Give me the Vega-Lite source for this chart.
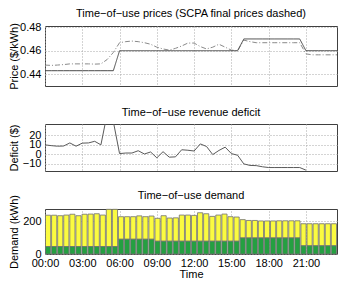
{
  "$schema": "https://vega.github.io/schema/vega-lite/v6.json",
  "padding": {"left": 5, "top": 7, "right": 5, "bottom": 1},
  "spacing": 38,
  "bounds": "flush",
  "config": {
    "font": "Liberation Sans",
    "view": {"stroke": "#404040", "strokeWidth": 1},
    "axis": {"labelFont": "Liberation Sans", "labelFontSize": 11, "labelColor": "#000", "titleFont": "Liberation Sans", "titleFontSize": 11, "titleFontWeight": "normal", "titleColor": "#000", "ticks": false, "tickSize": 0, "domain": false, "gridColor": "#a8a8a8", "gridDash": [1, 2], "gridWidth": 1, "labelPadding": 4, "titlePadding": 2, "labelOverlap": false, "labelFlush": false},
    "axisY": {"minExtent": 39, "maxExtent": 39, "titleX": -26},
    "title": {"fontSize": 11, "fontWeight": "normal", "font": "Liberation Sans", "color": "#000"}
  },
  "datasets": {
    "prices": [
      {"hour": 0, "tou": 0.443, "scpa": 0.4478}, {"hour": 0.5, "tou": 0.443, "scpa": 0.4475},
      {"hour": 1, "tou": 0.443, "scpa": 0.4478}, {"hour": 1.5, "tou": 0.443, "scpa": 0.4482},
      {"hour": 2, "tou": 0.443, "scpa": 0.4488}, {"hour": 2.5, "tou": 0.443, "scpa": 0.4488},
      {"hour": 3, "tou": 0.443, "scpa": 0.4488}, {"hour": 3.5, "tou": 0.443, "scpa": 0.4488},
      {"hour": 4, "tou": 0.443, "scpa": 0.4486}, {"hour": 4.5, "tou": 0.443, "scpa": 0.4488},
      {"hour": 5, "tou": 0.443, "scpa": 0.4525}, {"hour": 5.5, "tou": 0.443, "scpa": 0.4585},
      {"hour": 6, "tou": 0.46, "scpa": 0.4668}, {"hour": 6.5, "tou": 0.46, "scpa": 0.4677},
      {"hour": 7, "tou": 0.46, "scpa": 0.4682}, {"hour": 7.5, "tou": 0.46, "scpa": 0.4677},
      {"hour": 8, "tou": 0.46, "scpa": 0.4668}, {"hour": 8.5, "tou": 0.46, "scpa": 0.4655},
      {"hour": 9, "tou": 0.46, "scpa": 0.463}, {"hour": 9.5, "tou": 0.46, "scpa": 0.4615},
      {"hour": 10, "tou": 0.46, "scpa": 0.4605}, {"hour": 10.5, "tou": 0.46, "scpa": 0.462},
      {"hour": 11, "tou": 0.46, "scpa": 0.464}, {"hour": 11.5, "tou": 0.46, "scpa": 0.4665},
      {"hour": 12, "tou": 0.46, "scpa": 0.4665}, {"hour": 12.5, "tou": 0.46, "scpa": 0.4635},
      {"hour": 13, "tou": 0.46, "scpa": 0.4615}, {"hour": 13.5, "tou": 0.46, "scpa": 0.463},
      {"hour": 14, "tou": 0.46, "scpa": 0.4655}, {"hour": 14.5, "tou": 0.46, "scpa": 0.463},
      {"hour": 15, "tou": 0.46, "scpa": 0.4605}, {"hour": 15.5, "tou": 0.46, "scpa": 0.46},
      {"hour": 16, "tou": 0.47, "scpa": 0.469}, {"hour": 16.5, "tou": 0.47, "scpa": 0.4677},
      {"hour": 17, "tou": 0.47, "scpa": 0.4668}, {"hour": 17.5, "tou": 0.47, "scpa": 0.4668},
      {"hour": 18, "tou": 0.47, "scpa": 0.4668}, {"hour": 18.5, "tou": 0.47, "scpa": 0.4668},
      {"hour": 19, "tou": 0.47, "scpa": 0.4668}, {"hour": 19.5, "tou": 0.47, "scpa": 0.4668},
      {"hour": 20, "tou": 0.47, "scpa": 0.4668}, {"hour": 20.5, "tou": 0.47, "scpa": 0.4668},
      {"hour": 21, "tou": 0.46, "scpa": 0.4573}, {"hour": 21.5, "tou": 0.46, "scpa": 0.4565},
      {"hour": 22, "tou": 0.46, "scpa": 0.4565}, {"hour": 22.5, "tou": 0.46, "scpa": 0.4565},
      {"hour": 23, "tou": 0.46, "scpa": 0.4565}, {"hour": 23.5, "tou": 0.46, "scpa": 0.4565}
    ],
    "deficit": [
      {"hour": 0, "deficit": 9.8}, {"hour": 0.5, "deficit": 9.0}, {"hour": 1, "deficit": 8.4},
      {"hour": 1.5, "deficit": 8.6}, {"hour": 2, "deficit": 11.8}, {"hour": 2.5, "deficit": 8.4},
      {"hour": 3, "deficit": 11.6}, {"hour": 3.5, "deficit": 11.8}, {"hour": 4, "deficit": 13.5},
      {"hour": 4.5, "deficit": 9.8}, {"hour": 5, "deficit": 42}, {"hour": 5.5, "deficit": 34},
      {"hour": 6, "deficit": 0.7}, {"hour": 6.5, "deficit": 1.3}, {"hour": 7, "deficit": 1.3},
      {"hour": 7.5, "deficit": 3.7}, {"hour": 8, "deficit": 0.3}, {"hour": 8.5, "deficit": 2.4},
      {"hour": 9, "deficit": -3.7}, {"hour": 9.5, "deficit": 2.7}, {"hour": 10, "deficit": -3},
      {"hour": 10.5, "deficit": -2.7}, {"hour": 11, "deficit": 4.7}, {"hour": 11.5, "deficit": 4.2},
      {"hour": 12, "deficit": 3.4}, {"hour": 12.5, "deficit": 10.8}, {"hour": 13, "deficit": 8.1},
      {"hour": 13.5, "deficit": -0.3}, {"hour": 14, "deficit": 4}, {"hour": 14.5, "deficit": 7.4},
      {"hour": 15, "deficit": 0.7}, {"hour": 15.5, "deficit": -1}, {"hour": 16, "deficit": -10},
      {"hour": 16.5, "deficit": -11.6}, {"hour": 17, "deficit": -11.8}, {"hour": 17.5, "deficit": -13},
      {"hour": 18, "deficit": -13.8}, {"hour": 18.5, "deficit": -13.8}, {"hour": 19, "deficit": -13.8},
      {"hour": 19.5, "deficit": -13.8}, {"hour": 20, "deficit": -13.8}, {"hour": 20.5, "deficit": -13.8},
      {"hour": 21, "deficit": -16.5}
    ],
    "demand": [
      {"hour": 0, "base": 45, "total": 237}, {"hour": 0.5, "base": 45, "total": 237},
      {"hour": 1, "base": 45, "total": 234}, {"hour": 1.5, "base": 45, "total": 238},
      {"hour": 2, "base": 45, "total": 243}, {"hour": 2.5, "base": 45, "total": 234},
      {"hour": 3, "base": 45, "total": 243}, {"hour": 3.5, "base": 45, "total": 244},
      {"hour": 4, "base": 45, "total": 246}, {"hour": 4.5, "base": 45, "total": 238},
      {"hour": 5, "base": 45, "total": 273}, {"hour": 5.5, "base": 45, "total": 273},
      {"hour": 6, "base": 90, "total": 228}, {"hour": 6.5, "base": 90, "total": 228},
      {"hour": 7, "base": 90, "total": 228}, {"hour": 7.5, "base": 90, "total": 233},
      {"hour": 8, "base": 90, "total": 228}, {"hour": 8.5, "base": 90, "total": 232},
      {"hour": 9, "base": 78, "total": 218}, {"hour": 9.5, "base": 78, "total": 234},
      {"hour": 10, "base": 78, "total": 220}, {"hour": 10.5, "base": 78, "total": 221},
      {"hour": 11, "base": 78, "total": 238}, {"hour": 11.5, "base": 78, "total": 238},
      {"hour": 12, "base": 78, "total": 236}, {"hour": 12.5, "base": 78, "total": 252},
      {"hour": 13, "base": 78, "total": 246}, {"hour": 13.5, "base": 78, "total": 230},
      {"hour": 14, "base": 78, "total": 238}, {"hour": 14.5, "base": 78, "total": 244},
      {"hour": 15, "base": 78, "total": 228}, {"hour": 15.5, "base": 78, "total": 226},
      {"hour": 16, "base": 98, "total": 210}, {"hour": 16.5, "base": 98, "total": 205},
      {"hour": 17, "base": 98, "total": 205}, {"hour": 17.5, "base": 98, "total": 202},
      {"hour": 18, "base": 98, "total": 202}, {"hour": 18.5, "base": 98, "total": 202},
      {"hour": 19, "base": 98, "total": 203}, {"hour": 19.5, "base": 98, "total": 203},
      {"hour": 20, "base": 98, "total": 203}, {"hour": 20.5, "base": 98, "total": 203},
      {"hour": 21, "base": 50, "total": 185}, {"hour": 21.5, "base": 50, "total": 185},
      {"hour": 22, "base": 50, "total": 185}, {"hour": 22.5, "base": 50, "total": 185},
      {"hour": 23, "base": 50, "total": 185}, {"hour": 23.5, "base": 50, "total": 185}
    ]
  },
  "vconcat": [
    {
      "width": 292, "height": 60,
      "title": {"text": "Time−of−use prices (SCPA final prices dashed)", "offset": 2},
      "data": {"name": "prices"},
      "transform": [{"fold": ["scpa", "tou"], "as": ["series", "price"]}],
      "mark": {"type": "line", "strokeWidth": 1, "clip": true},
      "encoding": {
        "x": {"field": "hour", "type": "quantitative", "scale": {"domain": [0, 23.5], "nice": false, "zero": false},
              "axis": {"values": [0, 3, 6, 9, 12, 15, 18, 21], "labels": false, "title": null, "grid": true}},
        "y": {"field": "price", "type": "quantitative", "scale": {"domain": [0.43, 0.481], "nice": false, "zero": false},
              "axis": {"values": [0.44, 0.46, 0.48], "format": ".2f", "title": "Price ($/kWh)", "grid": true}},
        "color": {"field": "series", "type": "nominal", "scale": {"domain": ["scpa", "tou"], "range": ["#8a8a8a", "#4a4a4a"]}, "legend": null},
        "strokeDash": {"field": "series", "type": "nominal", "scale": {"domain": ["scpa", "tou"], "range": [[5, 2, 1, 2], [1, 0]]}, "legend": null}
      }
    },
    {
      "width": 292, "height": 47,
      "title": {"text": "Time−of−use revenue deficit", "offset": 6},
      "data": {"name": "deficit"},
      "mark": {"type": "line", "color": "#5a5a5a", "strokeWidth": 1, "clip": true},
      "encoding": {
        "x": {"field": "hour", "type": "quantitative", "scale": {"domain": [0, 23.5], "nice": false, "zero": false},
              "axis": {"values": [0, 3, 6, 9, 12, 15, 18, 21], "labels": false, "title": null, "grid": true}},
        "y": {"field": "deficit", "type": "quantitative", "scale": {"domain": [-17.4, 31.5], "nice": false, "zero": false},
              "axis": {"values": [-10, 0, 10, 20], "title": "Deficit ($)", "grid": true}}
      }
    },
    {
      "width": 292, "height": 45,
      "title": {"text": "Time−of−use demand", "offset": -6},
      "data": {"name": "demand"},
      "layer": [
        {
          "mark": {"type": "point", "opacity": 0},
          "encoding": {
            "x": {"field": "hour", "type": "quantitative", "scale": {"domain": [0, 23.5], "nice": false, "zero": false},
                  "axis": {"orient": "bottom", "values": [0, 3, 6, 9, 12, 15, 18, 21], "labelExpr": "(datum.value < 10 ? '0' : '') + datum.value + ':00'", "title": "Time", "grid": true, "labelPadding": 3, "titlePadding": 0}}
          }
        },
        {
          "layer": [
            {
              "mark": {"type": "bar", "color": "#fbfb40", "stroke": "#707070", "strokeWidth": 0.8},
              "encoding": {
                "x": {"field": "hour", "type": "ordinal", "axis": null, "scale": {"paddingInner": 0.15, "paddingOuter": 0.08}},
                "y": {"field": "total", "type": "quantitative", "scale": {"domain": [0, 275], "nice": false},
                      "axis": {"values": [0, 100, 200], "title": "Demand (kWh)", "grid": true}},
                "y2": {"field": "base"}
              }
            },
            {
              "mark": {"type": "bar", "color": "#24a041", "stroke": "#707070", "strokeWidth": 0.8},
              "encoding": {
                "x": {"field": "hour", "type": "ordinal", "axis": null},
                "y": {"field": "base", "type": "quantitative", "stack": null}
              }
            }
          ]
        }
      ],
      "resolve": {"scale": {"x": "independent"}, "axis": {"x": "independent"}}
    }
  ]
}
